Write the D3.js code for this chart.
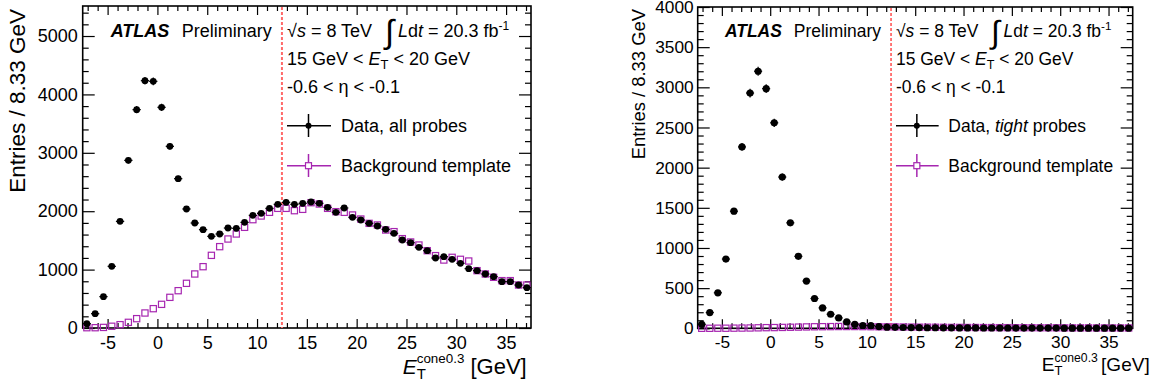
<!DOCTYPE html>
<html><head><meta charset="utf-8">
<script src="https://cdn.jsdelivr.net/npm/d3@7"></script>
<style>
body{margin:0;background:#fff}
svg{display:block}
text{font-family:"Liberation Sans",Arial,Helvetica,sans-serif;fill:#000}
</style>
</head><body>
<svg id="c" width="1159" height="390"></svg>
<script>
// ---------- data ----------
const binLow = -7.5, binHigh = 37.5, nBins = 54;
const xTicks = [-5, 0, 5, 10, 15, 20, 25, 30, 35];
const leftYTicks = [0, 1000, 2000, 3000, 4000, 5000];
const rightYTicks = [0, 500, 1000, 1500, 2000, 2500, 3000, 3500, 4000];
const cutValue = 12.5;

const leftData = [74, 245, 537, 1056, 1826, 2871, 3739, 4235, 4224, 3779,
  3111, 2557, 2038, 1798, 1684, 1570, 1610, 1712, 1707, 1809,
  1929, 1963, 2049, 2118, 2152, 2118, 2135, 2158, 2135, 2066,
  1981, 2055, 1895, 1849, 1792, 1747, 1689, 1621, 1507, 1461,
  1381, 1324, 1199, 1221, 1176, 1107, 1016, 982, 925, 879,
  793, 793, 736, 691];
const leftBkg = [5, 5, 10, 30, 57, 97, 160, 257, 331, 405,
  525, 639, 765, 925, 1050, 1244, 1393, 1524, 1610, 1724,
  1855, 1918, 1981, 2049, 2049, 2009, 2032, 2146, 2123, 2049,
  1992, 1981, 1935, 1866, 1792, 1764, 1678, 1650, 1530, 1473,
  1421, 1324, 1239, 1164, 1210, 1176, 1147, 982, 925, 868,
  811, 811, 736, 736];
const rightData = [50, 196, 442, 862, 1458, 2258, 2929, 3200, 2983, 2558,
  1883, 1313, 896, 588, 371, 254, 175, 129, 79, 50,
  35, 33, 22, 14, 12, 10, 9, 8, 7, 7,
  6, 6, 5, 5, 5, 4, 4, 4, 4, 3,
  3, 3, 3, 3, 3, 2, 2, 2, 2, 2,
  2, 2, 2, 2];
const rightBkg = [0, 0, 1, 1, 2, 3, 4, 6, 8, 9,
  11, 13, 15, 17, 19, 20, 21, 22, 22, 22,
  21, 20, 19, 18, 17, 16, 15, 14, 14, 13,
  12, 11, 11, 10, 10, 9, 9, 8, 8, 7,
  7, 7, 6, 6, 6, 5, 5, 5, 5, 4,
  4, 4, 4, 4];

const MAG = "#a626b0";
const svg = d3.select("#c");
const fmt = d => String(d);

function panel(cfg) {
  const g = svg.append("g");
  const x = d3.scaleLinear().domain([binLow, binHigh]).range([cfg.x0, cfg.x1]);
  const y = d3.scaleLinear().domain([0, cfg.ymax]).range([cfg.yb, cfg.yt]);
  const bw = (binHigh - binLow) / nBins;
  const centers = d3.range(nBins).map(i => binLow + (i + 0.5) * bw);
  const xMinor = d3.range(-7, 38, 1).filter(v => xTicks.indexOf(v) < 0);
  const yMinor = d3.range(0, cfg.ymax, cfg.yMinorStep).filter(v => cfg.yTicks.indexOf(v) < 0);
  const FF = "Liberation Sans, Arial, sans-serif";

  function clean(sel) { sel.select(".domain").remove(); sel.selectAll("line").attr("stroke", "#000").attr("stroke-width", 1.2); }

  // bottom
  g.append("g").attr("transform", `translate(0,${cfg.yb})`)
    .call(d3.axisBottom(x).tickValues(xTicks).tickSize(-cfg.xMaj).tickPadding(cfg.xPad).tickFormat(fmt))
    .call(clean).call(s => s.selectAll("text").attr("font-size", cfg.tickFont).attr("font-family", FF));
  g.append("g").attr("transform", `translate(0,${cfg.yb})`)
    .call(d3.axisBottom(x).tickValues(xMinor).tickSize(-cfg.xMin).tickFormat("")).call(clean);
  // top
  g.append("g").attr("transform", `translate(0,${cfg.yt})`)
    .call(d3.axisTop(x).tickValues(xTicks).tickSize(-cfg.xMaj).tickFormat("")).call(clean);
  g.append("g").attr("transform", `translate(0,${cfg.yt})`)
    .call(d3.axisTop(x).tickValues(xMinor).tickSize(-cfg.xMin).tickFormat("")).call(clean);
  // left
  g.append("g").attr("transform", `translate(${cfg.x0},0)`)
    .call(d3.axisLeft(y).tickValues(cfg.yTicks).tickSize(-cfg.yMaj).tickPadding(cfg.yPad).tickFormat(fmt))
    .call(clean).call(s => s.selectAll("text").attr("font-size", cfg.tickFont).attr("font-family", FF));
  g.append("g").attr("transform", `translate(${cfg.x0},0)`)
    .call(d3.axisLeft(y).tickValues(yMinor).tickSize(-cfg.yMin).tickFormat("")).call(clean);
  // right
  g.append("g").attr("transform", `translate(${cfg.x1},0)`)
    .call(d3.axisRight(y).tickValues(cfg.yTicks).tickSize(-cfg.yMaj).tickFormat("")).call(clean);
  g.append("g").attr("transform", `translate(${cfg.x1},0)`)
    .call(d3.axisRight(y).tickValues(yMinor).tickSize(-cfg.yMin).tickFormat("")).call(clean);

  // frame
  g.append("rect").attr("x", cfg.x0).attr("y", cfg.yt).attr("width", cfg.x1 - cfg.x0).attr("height", cfg.yb - cfg.yt)
    .attr("fill", "none").attr("stroke", "#000").attr("stroke-width", 1.6);

  // cut line
  g.append("line").attr("x1", x(cutValue)).attr("x2", x(cutValue)).attr("y1", cfg.yt + 1).attr("y2", cfg.yb)
    .attr("stroke", cfg.cutColor).attr("stroke-width", cfg.cutWidth).attr("stroke-dasharray", cfg.cutDash);

  // background squares
  const s = cfg.sq;
  g.append("g").selectAll("rect").data(cfg.bkg).join("rect")
    .attr("x", (d, i) => x(centers[i]) - s / 2).attr("y", d => y(d) - s / 2)
    .attr("width", s).attr("height", s).attr("fill", "none").attr("stroke", MAG).attr("stroke-width", 1.2);

  // data points with error bars
  const dg = g.append("g").selectAll("g").data(cfg.data).join("g");
  dg.append("line").attr("x1", (d, i) => x(centers[i] - bw / 2)).attr("x2", (d, i) => x(centers[i] + bw / 2))
    .attr("y1", d => y(d)).attr("y2", d => y(d)).attr("stroke", "#000").attr("stroke-width", 1.2);
  dg.append("line").attr("x1", (d, i) => x(centers[i])).attr("x2", (d, i) => x(centers[i]))
    .attr("y1", d => y(d + Math.sqrt(d))).attr("y2", d => y(Math.max(0, d - Math.sqrt(d)))).attr("stroke", "#000").attr("stroke-width", 1.2);
  dg.append("circle").attr("cx", (d, i) => x(centers[i])).attr("cy", d => y(d)).attr("r", cfg.r).attr("fill", "#000");

  // texts
  const f = cfg.font, k = f / 18;
  const T = (px, py, size) => g.append("text").attr("x", px).attr("y", py).attr("font-size", size);
  T(cfg.atlasX, 37, f).attr("font-weight", "bold").attr("font-style", "italic").text("ATLAS");
  T(cfg.atlasX + 71 * k, 37, f).text("Preliminary");
  const tx = cfg.textX;
  const t1 = T(tx, 37, f);
  t1.append("tspan").text("\u221A");
  t1.append("tspan").attr("font-style", "italic").text("s");
  t1.append("tspan").text(" = 8 TeV");
  T(tx + 98 * k, 43, 33 * k).text("\u222B");
  const t2 = T(tx + 111 * k, 37, f);
  t2.append("tspan").attr("font-style", "italic").text("L");
  t2.append("tspan").text("d");
  t2.append("tspan").attr("font-style", "italic").text("t");
  t2.append("tspan").text(" = 20.3 fb");
  t2.append("tspan").attr("font-size", 12 * k).attr("dy", -7).text("-1");
  const t3 = T(tx, 65, f);
  t3.append("tspan").text("15 GeV < ");
  t3.append("tspan").attr("font-style", "italic").text("E");
  t3.append("tspan").attr("font-size", 13 * k).attr("dy", 4).text("T");
  t3.append("tspan").attr("dy", -4).text(" < 20 GeV");
  T(tx, 93, f).text("-0.6 < \u03B7 < -0.1");

  // legend
  const lx0 = tx, lx1 = tx + 44 * k, lm = tx + 21.5 * k;
  g.append("line").attr("x1", lx0).attr("x2", lx1).attr("y1", 125.7).attr("y2", 125.7).attr("stroke", "#000").attr("stroke-width", 1.5);
  g.append("line").attr("x1", lm).attr("x2", lm).attr("y1", 114).attr("y2", 137).attr("stroke", "#000").attr("stroke-width", 1.5);
  g.append("circle").attr("cx", lm).attr("cy", 125.7).attr("r", 3).attr("fill", "#000");
  const lt1 = T(tx + 54 * k, 131.5, f);
  lt1.append("tspan").text("Data, ");
  if (cfg.tight) { lt1.append("tspan").attr("font-style", "italic").text("tight"); lt1.append("tspan").text(" probes"); }
  else lt1.append("tspan").text("all probes");

  g.append("line").attr("x1", lx0).attr("x2", lx1).attr("y1", 165.7).attr("y2", 165.7).attr("stroke", MAG).attr("stroke-width", 1.5);
  g.append("line").attr("x1", lm).attr("x2", lm).attr("y1", 154).attr("y2", 177).attr("stroke", MAG).attr("stroke-width", 1.5);
  g.append("rect").attr("x", lm - 3).attr("y", 162.7).attr("width", 6).attr("height", 6).attr("fill", "#fff").attr("stroke", MAG).attr("stroke-width", 1.2);
  T(tx + 54 * k, 172, f).text("Background template");

  // axis titles
  g.append("text").attr("transform", `translate(${cfg.ytX},9) rotate(-90)`).attr("text-anchor", "end")
    .attr("font-size", cfg.ytFont).text("Entries / 8.33 GeV");
  const a = cfg.xt;
  const xt = g.append("text").attr("x", a.ex).attr("y", a.base).attr("font-size", a.font);
  const e = xt.append("tspan").text("E");
  if (a.italic) e.attr("font-style", "italic");
  xt.append("tspan").attr("font-size", a.subFont).attr("dy", a.subDy).text("T");
  xt.append("tspan").attr("font-size", a.supFont).attr("dx", -a.subW).attr("dy", a.supDy).text("cone0.3");
  xt.append("tspan").attr("font-size", a.gevFont).attr("dx", a.gevDx).attr("dy", -(a.subDy + a.supDy)).text(" [GeV]");
}

panel({
  x0: 82.7, x1: 531, yt: 6, yb: 328, ymax: 5514, yTicks: leftYTicks, yMinorStep: 200,
  xMaj: 9, xMin: 5, yMaj: 12, yMin: 6, xPad: 8, yPad: 5, tickFont: 18,
  data: leftData, bkg: leftBkg, r: 3.4, sq: 6.2,
  cutColor: "#ff6a6a", cutWidth: 2, cutDash: "3,2",
  atlasX: 110.7, textX: 287, tight: false, font: 18,
  ytX: 25, ytFont: 22.5,
  xt: {ex: 402.7, base: 374, font: 21, italic: true, subFont: 15, subDy: 4.5, subW: 9.2,
       supFont: 13.4, supDy: -15.3, gevFont: 22, gevDx: 0}
});
panel({
  x0: 697.7, x1: 1132.7, yt: 7, yb: 328.3, ymax: 4000, yTicks: rightYTicks, yMinorStep: 100,
  xMaj: 9, xMin: 5, yMaj: 12, yMin: 6, xPad: 7, yPad: 4, tickFont: 17.3,
  data: rightData, bkg: rightBkg, r: 3.6, sq: 6.2,
  cutColor: "#ff2020", cutWidth: 1.2, cutDash: "3,2",
  atlasX: 725, textX: 896, tight: true, font: 17.45,
  ytX: 645, ytFont: 18.4,
  xt: {ex: 1041.7, base: 371, font: 19, italic: false, subFont: 13, subDy: 4, subW: 7.9,
       supFont: 12.2, supDy: -13.5, gevFont: 19, gevDx: -2}
});
</script>
</body></html>
